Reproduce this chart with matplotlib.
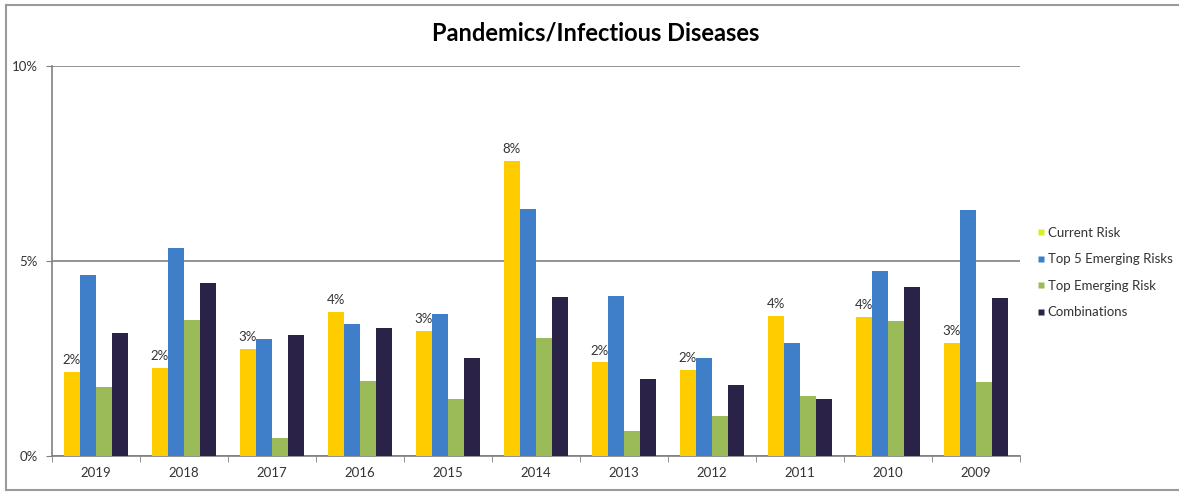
import numpy as np
import matplotlib.pyplot as plt
from matplotlib.lines import Line2D
from matplotlib.ticker import FuncFormatter

plt.rcParams['font.family'] = ['Lato', 'DejaVu Sans']

# Data (percent)
years = ['2019', '2018', '2017', '2016', '2015', '2014', '2013', '2012', '2011', '2010', '2009']
current_risk = [2.16, 2.25, 2.75, 3.69, 3.21, 7.57, 2.40, 2.21, 3.59, 3.57, 2.89]
top5_emerging = [4.64, 5.34, 3.01, 3.38, 3.64, 6.33, 4.09, 2.52, 2.91, 4.75, 6.30]
top_emerging = [1.78, 3.50, 0.45, 1.93, 1.47, 3.02, 0.64, 1.02, 1.54, 3.47, 1.91]
combinations = [3.16, 4.44, 3.10, 3.27, 2.51, 4.08, 1.98, 1.82, 1.47, 4.33, 4.04]
current_labels = ['2%', '2%', '3%', '4%', '3%', '8%', '2%', '2%', '4%', '4%', '3%']

series = [
    ('Current Risk', current_risk, '#FFCC00'),
    ('Top 5 Emerging Risks', top5_emerging, '#3F7EC8'),
    ('Top Emerging Risk', top_emerging, '#9BBB59'),
    ('Combinations', combinations, '#2B2347'),
]

fig = plt.figure(figsize=(11.79, 4.93), dpi=100)
ax = fig.add_axes([52 / 1179, 1 - 456 / 493, (1020 - 52) / 1179, (456 - 66) / 493])

x = np.arange(len(years))
w = 0.182
for i, (name, vals, color) in enumerate(series):
    ax.bar(x + (i - 1.5) * w, vals, w, color=color, label=name, zorder=3)

# value labels above the current-risk bars
for xi, v, lab in zip(x, current_risk, current_labels):
    ax.text(xi - 1.5 * w, v + 0.15, lab, ha='center', va='bottom', fontsize=9.5, color='#333333', zorder=4)

ax.set_xlim(-0.5, len(years) - 0.5)
ax.set_ylim(0, 10)
ax.set_yticks([0, 5, 10])
ax.yaxis.set_major_formatter(FuncFormatter(lambda v, p: f'{v:.0f}%'))
ax.yaxis.grid(True, color='#808080', linewidth=1.2, zorder=0)
ax.set_xticks(x)
ax.set_xticklabels(years)
ax.set_xticks(np.arange(-0.5, len(years)), minor=True)
ax.tick_params(axis='x', which='major', length=0, pad=8, labelsize=9.5, labelcolor='#333333')
ax.tick_params(axis='x', which='minor', length=4, color='#808080', direction='out')
ax.tick_params(axis='y', length=4, color='#808080', labelsize=9.5, labelcolor='#333333', pad=6)
for s in ['top', 'right']:
    ax.spines[s].set_visible(False)
for s in ['left', 'bottom']:
    ax.spines[s].set_color('#808080')
    ax.spines[s].set_linewidth(1.2)

fig.text(596 / 1179, 1 - 33 / 493, 'Pandemics/Infectious Diseases', ha='center', va='center',
         fontsize=17, fontweight='bold')

handles = [Line2D([0], [0], marker='s', linestyle='none', markersize=5,
                  markerfacecolor=c if n != 'Current Risk' else '#D8F020',
                  markeredgecolor='none') for n, _, c in series]
leg = fig.legend(handles, [n for n, _, _ in series], loc='upper left',
                 bbox_to_anchor=(1024 / 1179, 1 - 215 / 493), frameon=False,
                 fontsize=9.5, handletextpad=0.1, labelspacing=1.1, handlelength=0.8)
for t in leg.get_texts():
    t.set_color('#333333')

# outer chart border
fig.add_artist(Line2D([6 / 1179, 1.0], [1 - 5 / 493, 1 - 5 / 493], color='#9a9a9a', lw=1.5))
fig.add_artist(Line2D([6 / 1179, 6 / 1179], [1 - 5 / 493, 1 - 490 / 493], color='#9a9a9a', lw=1.5))
fig.add_artist(Line2D([6 / 1179, 1.0], [1 - 490 / 493, 1 - 490 / 493], color='#9a9a9a', lw=1.5))

fig.savefig('out.png', dpi=100)
